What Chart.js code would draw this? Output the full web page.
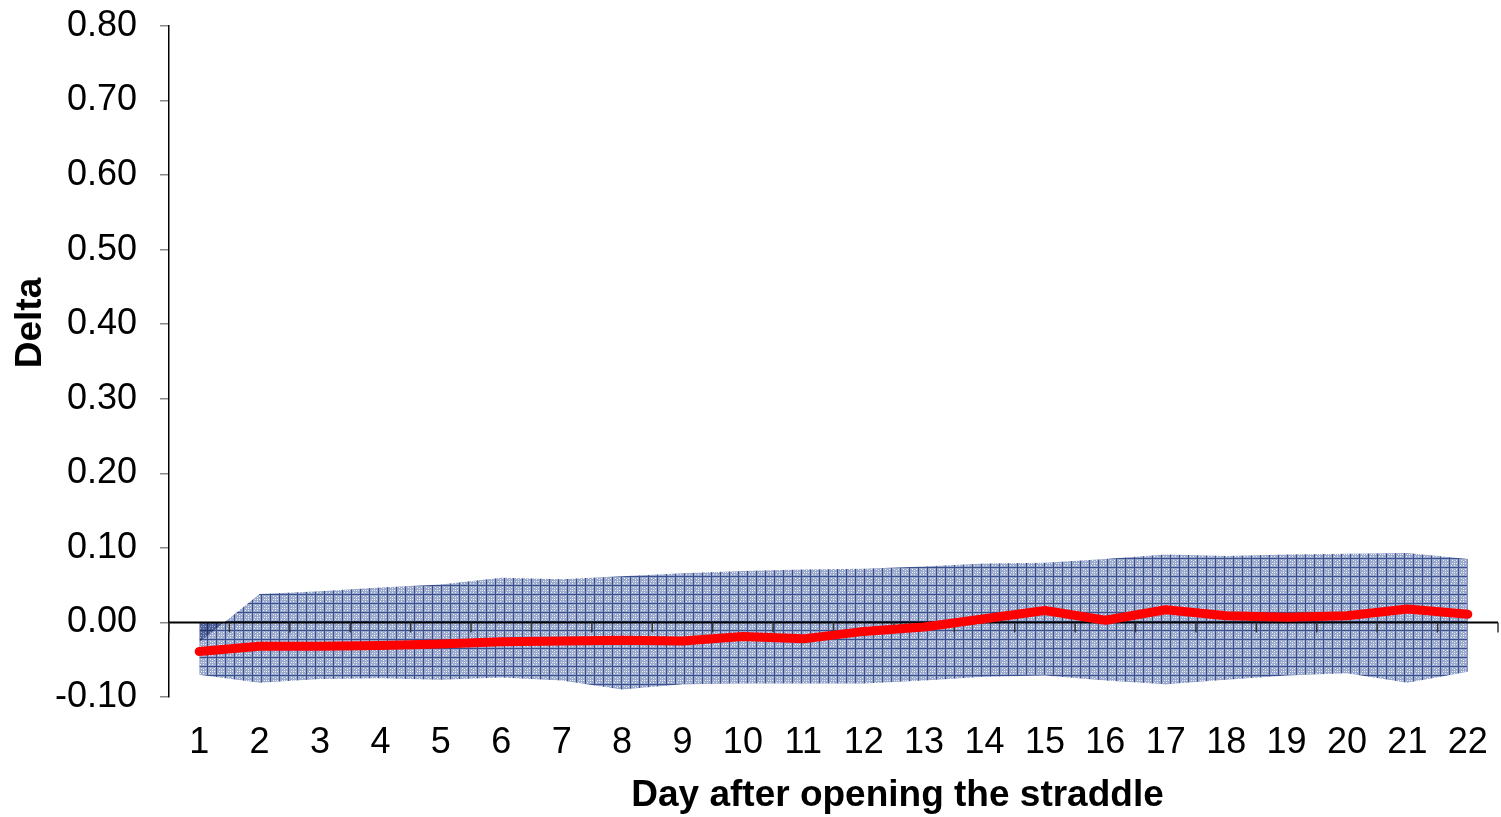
<!DOCTYPE html>
<html lang="en">
<head>
  <meta charset="UTF-8" />
  <title>Delta by day after opening the straddle</title>
  <script src="https://cdn.jsdelivr.net/npm/chart.js@4.4.0/dist/chart.umd.min.js"></script>
  <style>
    html, body { margin: 0; padding: 0; background: #fff; overflow: hidden; }
    #wrap { width: 1501px; height: 817px; position: relative; }
  </style>
</head>
<body>
  <div id="wrap"><canvas id="myChart"></canvas></div>

  <script>
    // data
    const days = ['1','2','3','4','5','6','7','8','9','10','11','12','13','14','15','16','17','18','19','20','21','22'];
    const lowerBand = [-0.070, -0.081, -0.076, -0.075, -0.077, -0.074, -0.078, -0.090, -0.083, -0.082, -0.082,
                       -0.082, -0.078, -0.073, -0.071, -0.078, -0.083, -0.077, -0.071, -0.068, -0.081, -0.066];
    const upperBand = [-0.027, 0.038, 0.042, 0.047, 0.051, 0.060, 0.058, 0.062, 0.066, 0.069, 0.071,
                       0.072, 0.075, 0.079, 0.080, 0.085, 0.091, 0.089, 0.091, 0.092, 0.093, 0.085];
    const meanDelta = [-0.039, -0.032, -0.032, -0.031, -0.029, -0.026, -0.025, -0.024, -0.025, -0.019, -0.022,
                       -0.012, -0.006, 0.005, 0.016, 0.003, 0.017, 0.009, 0.007, 0.009, 0.018, 0.011];
    const yTicks = { min: -0.10, max: 0.80, step: 0.10 };

    const FONT = '"Liberation Sans", Arial, sans-serif';

    // small crosshatch tile, like the excel pattern fill
    function makePattern(ctx, base, line, dot) {
      const n = 9;
      const t = document.createElement('canvas');
      t.width = n; t.height = n;
      const c = t.getContext('2d');
      c.fillStyle = base;
      c.fillRect(0, 0, n, n);
      c.fillStyle = line;
      c.fillRect(0, 0, n, 1);
      c.fillRect(0, 0, 1, n);
      c.fillStyle = dot;
      [[3,5],[5,5],[7,5],[5,3],[5,7],[3,2],[7,2],[2,7]].forEach(p => c.fillRect(p[0], p[1], 1, 1));
      return ctx.createPattern(t, 'repeat');
    }

    const canvas = document.getElementById('myChart');
    const ctx = canvas.getContext('2d');
    const hatch = makePattern(ctx, '#9aa8cc', '#3a4f8d', '#eaeef7');
    const darkHatch = makePattern(ctx, '#4f6096', '#22336c', '#9aa7cc');

    // zero line with its tick marks, drawn under the red line
    const zeroAxis = {
      id: 'zeroAxis',
      beforeDatasetDraw(chart, args) {
        if (args.index !== 3) return;
        const { ctx, chartArea, scales } = chart;
        const y0 = scales.y.getPixelForValue(0);
        const half = (scales.x.getPixelForValue(1) - scales.x.getPixelForValue(0)) / 2;
        ctx.save();
        ctx.strokeStyle = '#000';
        ctx.lineWidth = 2;
        ctx.beginPath();
        ctx.moveTo(chartArea.left, y0);
        ctx.lineTo(chartArea.right, y0);
        ctx.stroke();
        ctx.strokeStyle = '#333';
        ctx.lineWidth = 1.5;
        for (let i = 0; i <= days.length; i++) {
          const x = scales.x.getPixelForValue(i) - half;
          ctx.beginPath();
          ctx.moveTo(x, y0);
          ctx.lineTo(x, y0 + 10);
          ctx.stroke();
        }
        ctx.restore();
      }
    };

    // axis titles (excel puts them a bit off the plot centre)
    const axisTitles = {
      id: 'axisTitles',
      afterDraw(chart) {
        const { ctx, chartArea } = chart;
        ctx.save();
        ctx.fillStyle = '#000';
        ctx.font = 'bold 37px ' + FONT;
        ctx.textAlign = 'center';
        ctx.textBaseline = 'middle';
        ctx.fillText('Day after opening the straddle', (chartArea.left + chartArea.right) / 2 + 64, 796);
        ctx.translate(31, 323);
        ctx.rotate(-Math.PI / 2);
        ctx.fillText('Delta', 0, 0);
        ctx.restore();
      }
    };

    new Chart(ctx, {
      type: 'line',
      data: {
        labels: days,
        datasets: [
          {
            label: 'lower',
            data: lowerBand,
            borderWidth: 0,
            pointRadius: 0,
            fill: false,
            order: 3
          },
          {
            label: 'band',
            data: upperBand,
            borderWidth: 0,
            pointRadius: 0,
            backgroundColor: hatch,
            fill: '-1',
            order: 3
          },
          {
            label: 'upper below zero',
            data: upperBand,
            borderWidth: 0,
            pointRadius: 0,
            fill: { target: 'origin', above: 'rgba(0,0,0,0)', below: darkHatch },
            order: 2
          },
          {
            label: 'Delta',
            data: meanDelta,
            borderColor: '#ff0000',
            borderWidth: 9,
            borderCapStyle: 'round',
            borderJoinStyle: 'round',
            pointRadius: 0,
            tension: 0,
            fill: false,
            order: 0
          }
        ]
      },
      options: {
        responsive: true,
        maintainAspectRatio: false,
        animation: false,
        layout: { padding: { top: 26, right: 3, left: 0, bottom: 0 } },
        plugins: {
          legend: { display: false },
          tooltip: { enabled: false }
        },
        scales: {
          x: {
            offset: true,
            grid: { display: false, drawTicks: false },
            border: { display: false },
            ticks: {
              color: '#000',
              font: { family: FONT, size: 36 },
              padding: 24,
              maxRotation: 0,
              autoSkip: false
            },
            afterFit(scale) {
              scale.height = 120;
              scale.paddingLeft = 0;
              scale.paddingRight = 0;
            }
          },
          y: {
            min: yTicks.min,
            max: yTicks.max,
            grid: {
              drawOnChartArea: false,
              drawTicks: true,
              tickLength: 9,
              color: '#888',
              lineWidth: 1.5
            },
            border: { display: true, color: '#000', width: 1.5 },
            ticks: {
              stepSize: yTicks.step,
              color: '#000',
              font: { family: FONT, size: 36 },
              padding: 23,
              callback: v => v.toFixed(2)
            },
            afterFit(scale) {
              scale.width = 169;
              scale.paddingTop = 0;
              scale.paddingBottom = 0;
            }
          }
        }
      },
      plugins: [zeroAxis, axisTitles]
    });
  </script>
</body>
</html>
